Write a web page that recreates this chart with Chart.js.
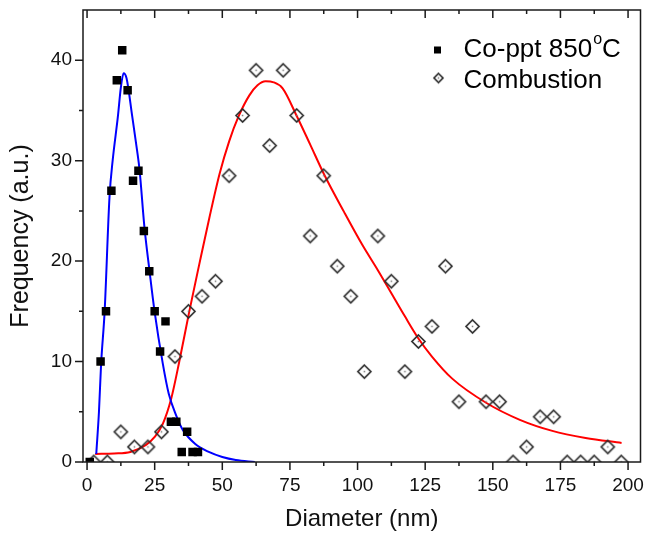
<!DOCTYPE html>
<html>
<head>
<meta charset="utf-8">
<script src="https://cdn.jsdelivr.net/npm/chart.js@4.4.1/dist/chart.umd.min.js"></script>
<style>
  html, body { margin: 0; padding: 0; background: #fff; }
  #wrap { width: 648px; height: 538px; }
</style>
</head>
<body>
<div id="wrap"><canvas id="myChart" width="648" height="538"></canvas></div>
<script>
// Co-ppt 850°C histogram (black squares)
const coX = [1, 5, 7, 9, 11, 13, 15, 17, 19, 21, 23, 25, 27, 29, 31, 33, 35, 37, 39, 41];
const coY = [0, 10, 15, 27, 38, 41, 37, 28, 29, 23, 19, 15, 11, 14, 4, 4, 1, 3, 1, 1];

// Combustion histogram (open diamonds)
const combX = [2.5, 7.5, 12.5, 17.5, 22.5, 27.5, 32.5, 37.5, 42.5, 47.5,
               52.5, 57.5, 62.5, 67.5, 72.5, 77.5, 82.5, 87.5, 92.5, 97.5,
               102.5, 107.5, 112.5, 117.5, 122.5, 127.5, 132.5, 137.5, 142.5, 147.5,
               152.5, 157.5, 162.5, 167.5, 172.5, 177.5, 182.5, 187.5, 192.5, 197.5];
const combY = [0, 0, 3, 1.5, 1.5, 3, 10.5, 15, 16.5, 18,
               28.5, 34.5, 39, 31.5, 39, 34.5, 22.5, 28.5, 19.5, 16.5,
               9, 22.5, 18, 9, 12, 13.5, 19.5, 6, 13.5, 6,
               6, 0, 1.5, 4.5, 4.5, 0, 0, 0, 1.5, 0];

// fitted curves
const fitCoX = [3.4, 4.4, 5.2, 6.5, 8.3, 9.5, 11.4, 12.5, 13.5, 14.6, 16.7, 18.5, 19.4, 21.2, 23.1, 24.9, 28, 30.2, 33, 35.4, 40, 45, 50, 55, 62];
const fitCoY = [0.8, 5, 9.8, 15, 26.4, 30.1, 34.4, 37.3, 38.7, 38.2, 34.4, 31, 29.1, 23.4, 19, 15.1, 9.8, 6.8, 4.6, 3.2, 1.8, 1.0, 0.5, 0.2, 0];

const fitCombX = [3, 10, 16, 21.8, 25, 28, 31.1, 34.1, 37.8, 41.5, 45.2, 49, 52.5, 56, 60, 63, 66, 69, 72.3, 77.6,
                  82.5, 87.7, 95, 101.8, 107.5, 112.5, 117.5, 122.5, 127.5, 135, 147.5, 160, 172, 184.3, 197.6];
const fitCombY = [0.8, 0.85, 1.0, 1.7, 2.5, 3.8, 6.3, 10, 15, 19.7, 24.3, 28.7, 31.9, 34.4, 36.5, 37.5, 37.9, 37.8, 37.2, 34.4,
                  31.6, 28.6, 24.9, 21.6, 19.1, 16.8, 14.5, 12.3, 10.5, 8.3, 5.9, 4.2, 3.1, 2.4, 1.9];

// ticks
const xTicks = [0, 12.5, 25, 37.5, 50, 62.5, 75, 87.5, 100, 112.5, 125, 137.5, 150, 162.5, 175, 187.5, 200];
const yTicks = [0, 5, 10, 15, 20, 25, 30, 35, 40];

const FONT = '"Liberation Sans", Arial, sans-serif';

function toPoints(xs, ys) {
    return xs.map((x, i) => ({ x: x, y: ys[i] }));
}

// open diamond with a small dot in the middle, as in the original plot
function diamondMarker(r) {
    const c = document.createElement('canvas');
    const s = Math.ceil(r * 2 + 4);
    c.width = s; c.height = s;
    const g = c.getContext('2d');
    const m = s / 2;
    g.strokeStyle = '#2e2e2e';
    g.lineWidth = 1.7;
    g.beginPath();
    g.moveTo(m, m - r); g.lineTo(m + r, m); g.lineTo(m, m + r); g.lineTo(m - r, m);
    g.closePath();
    g.stroke();
    g.fillStyle = '#777';
    g.fillRect(m - 0.75, m - 0.75, 1.5, 1.5);
    return c;
}
const diamondBig = diamondMarker(6.5);
const diamondSmall = diamondMarker(4.5);

// frame, inner/outer tick marks and the legend
const frameTicks = {
    id: 'frameTicks',
    afterDraw(chart) {
        const ctx = chart.ctx;
        const a = chart.chartArea;
        const xs = chart.scales.x;
        const ys = chart.scales.y;
        ctx.save();
        ctx.strokeStyle = '#1a1a1a';
        ctx.lineWidth = 1.5;
        ctx.strokeRect(a.left, a.top, a.right - a.left, a.bottom - a.top);
        ctx.beginPath();
        xTicks.forEach(v => {
            const px = xs.getPixelForValue(v);
            const len = v % 25 === 0 ? 8 : 4;
            ctx.moveTo(px, a.bottom); ctx.lineTo(px, a.bottom + len);
            ctx.moveTo(px, a.top); ctx.lineTo(px, a.top + len);
        });
        yTicks.forEach(v => {
            const py = ys.getPixelForValue(v);
            const len = v % 10 === 0 ? 8 : 4;
            ctx.moveTo(a.left, py); ctx.lineTo(a.left - len, py);
        });
        ctx.stroke();

        // legend (top right, inside the plot)
        const ds = chart.data.datasets;
        const mx = a.right - 203;
        const tx = a.right - 177;
        const rows = [a.top + 40, a.top + 71];
        ctx.fillStyle = '#000';
        ctx.fillRect(mx - 3.5, rows[0] - 3.5, 7, 7);
        ctx.drawImage(diamondSmall, mx + 1 - diamondSmall.width / 2, rows[1] - 3 - diamondSmall.height / 2);

        ctx.fillStyle = '#000';
        ctx.textBaseline = 'middle';
        ctx.textAlign = 'left';
        [0, 1].forEach(i => {
            const parts = ds[i].label.split('°');
            let x = tx;
            ctx.font = '26px ' + FONT;
            ctx.fillText(parts[0], x, rows[i]);
            if (parts.length > 1) {
                x += ctx.measureText(parts[0]).width;
                ctx.font = '16px ' + FONT;
                ctx.fillText('o', x + 1, rows[i] - 10);
                x += ctx.measureText('o').width + 1;
                ctx.font = '26px ' + FONT;
                ctx.fillText(parts[1], x, rows[i]);
            }
        });
        ctx.restore();
    }
};

const ctx = document.getElementById('myChart').getContext('2d');
const myChart = new Chart(ctx, {
    type: 'scatter',
    data: {
        datasets: [
            {
                label: 'Co-ppt 850°C',
                data: toPoints(coX, coY),
                pointStyle: 'rect',
                pointRadius: 6,
                backgroundColor: '#000',
                borderColor: '#000',
                borderWidth: 0,
                clip: 0
            },
            {
                label: 'Combustion',
                data: toPoints(combX, combY),
                pointStyle: diamondBig,
                pointRadius: 6.5,
                clip: 0
            },
            {
                label: 'Co-ppt fit',
                data: toPoints(fitCoX, fitCoY),
                showLine: true,
                pointRadius: 0,
                borderColor: '#0000ff',
                borderWidth: 2,
                cubicInterpolationMode: 'monotone'
            },
            {
                label: 'Combustion fit',
                data: toPoints(fitCombX, fitCombY),
                showLine: true,
                pointRadius: 0,
                borderColor: '#ff0000',
                borderWidth: 2,
                cubicInterpolationMode: 'monotone'
            }
        ]
    },
    options: {
        responsive: false,
        animation: false,
        events: [],
        layout: { padding: { left: 0, top: 10, right: 6, bottom: 0 } },
        plugins: {
            legend: { display: false },
            tooltip: { enabled: false }
        },
        scales: {
            x: {
                type: 'linear',
                min: -1.5,
                max: 204.6,
                afterBuildTicks: s => { s.ticks = xTicks.map(v => ({ value: v })); },
                afterFit: s => { s.height = 76; s.paddingLeft = 0; s.paddingRight = 0; },
                grid: { display: false, drawTicks: false },
                border: { display: false },
                ticks: {
                    padding: 12,
                    color: '#111',
                    autoSkip: false,
                    maxRotation: 0,
                    font: { size: 19, family: FONT },
                    callback: v => (v % 25 === 0 ? String(v) : '')
                },
                title: {
                    display: true,
                    text: 'Diameter (nm)',
                    color: '#111',
                    font: { size: 24, family: FONT },
                    padding: { top: 0, bottom: 4 }
                }
            },
            y: {
                type: 'linear',
                min: 0,
                max: 45,
                afterBuildTicks: s => { s.ticks = yTicks.map(v => ({ value: v })); },
                afterFit: s => { s.width = 83; s.paddingTop = 0; s.paddingBottom = 0; },
                grid: { display: false, drawTicks: false },
                border: { display: false },
                ticks: {
                    padding: 11,
                    color: '#111',
                    autoSkip: false,
                    font: { size: 19, family: FONT },
                    callback: v => (v % 10 === 0 ? String(v) : '')
                },
                title: {
                    display: true,
                    text: 'Frequency (a.u.)',
                    color: '#111',
                    font: { size: 25, family: FONT },
                    padding: { top: 6, bottom: 0 }
                }
            }
        }
    },
    plugins: [frameTicks]
});
</script>
</body>
</html>
